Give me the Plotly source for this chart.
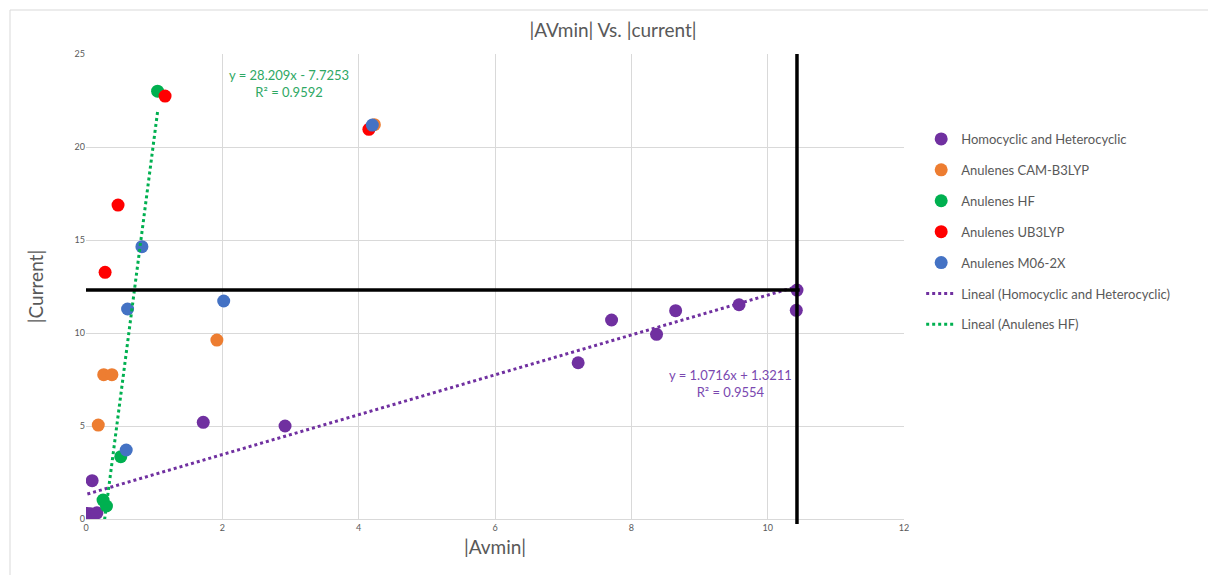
import plotly.graph_objects as go
import numpy as np

# ---- data ----
homo_x = [0.02, 0.07, 0.16, 0.09, 1.72, 2.92, 7.22, 7.71, 8.37, 8.65, 9.58, 10.43, 10.42]
homo_y = [0.30, 0.28, 0.33, 2.06, 5.20, 5.00, 8.40, 10.70, 9.93, 11.20, 11.52, 12.31, 11.22]

cam_x = [0.18, 0.26, 0.38, 1.92, 4.23]
cam_y = [5.05, 7.76, 7.76, 9.62, 21.20]

hf_x = [1.05, 0.51, 0.25, 0.30]
hf_y = [23.00, 3.35, 1.02, 0.70]

ub_x = [1.16, 0.47, 0.28, 4.15]
ub_y = [22.74, 16.88, 13.26, 20.95]

m06_x = [0.82, 0.61, 2.02, 0.59, 4.20]
m06_y = [14.64, 11.29, 11.72, 3.71, 21.18]

# trendline coefficients (as printed on the chart)
homo_slope, homo_icpt, homo_r2 = 1.0716, 1.3211, 0.9554
hf_slope, hf_icpt, hf_r2 = 28.209, -7.7253, 0.9592

x_ticks = [0, 2, 4, 6, 8, 10, 12]
y_ticks = [0, 5, 10, 15, 20, 25]

# ---- styles ----
C_PURPLE = "#7030A0"
C_ORANGE = "#ED7D31"
C_GREEN = "#00B050"
C_RED = "#FF0000"
C_BLUE = "#4472C4"
FONT = "Lato"
TXT = "#595959"
MS = 13

fig = go.Figure()

def pts(x, y, name, color, grp):
    fig.add_trace(go.Scatter(x=x, y=y, mode="markers", name=name,
                             legendgroup=grp,
                             marker=dict(color=color, size=MS)))

pts(homo_x, homo_y, "Homocyclic and Heterocyclic", C_PURPLE, "a")
pts(cam_x, cam_y, "Anulenes CAM-B3LYP", C_ORANGE, "b")
pts(hf_x, hf_y, "Anulenes HF", C_GREEN, "c")
pts(ub_x, ub_y, "Anulenes UB3LYP", C_RED, "d")
pts(m06_x, m06_y, "Anulenes M06-2X", C_BLUE, "e")

# trendlines
tx = np.linspace(min(homo_x), max(homo_x), 60)
fig.add_trace(go.Scatter(x=tx, y=homo_slope * tx + homo_icpt, mode="lines",
                         name="Lineal (Homocyclic and Heterocyclic)", legendgroup="f",
                         line=dict(color=C_PURPLE, width=3, dash="dot")))
tx2 = np.linspace(min(hf_x), max(hf_x), 60)
fig.add_trace(go.Scatter(x=tx2, y=hf_slope * tx2 + hf_icpt, mode="lines",
                         name="Lineal (Anulenes HF)", legendgroup="g",
                         line=dict(color=C_GREEN, width=3, dash="dot")))

# black reference lines through the max point of the homocyclic series
imax = int(np.argmax(homo_x))
vx, hy = homo_x[imax], homo_y[imax]
fig.add_shape(type="line", xref="x", yref="y", x0=0, x1=vx + 0.04, y0=hy, y1=hy,
              line=dict(color="black", width=3.5), layer="above")
fig.add_shape(type="line", xref="x", yref="paper", x0=vx, x1=vx, y0=-0.011, y1=1.0,
              line=dict(color="black", width=3.5), layer="above")

# outer chart border
fig.add_shape(type="rect", xref="paper", yref="paper",
              x0=(10 - 86) / 818, x1=1.45, y0=-0.2, y1=(519 - 10) / 465,
              line=dict(color="#D9D9D9", width=1), layer="below")

# trendline equations
fig.add_annotation(x=2.98, y=23.4, xref="x", yref="y", showarrow=False,
                   text=f"y = {hf_slope}x - {abs(hf_icpt)}<br>R² = {hf_r2}",
                   font=dict(family=FONT, size=13, color="#2EA864"), align="center")
fig.add_annotation(x=9.46, y=7.3, xref="x", yref="y", showarrow=False,
                   text=f"y = {homo_slope}x + {homo_icpt}<br>R² = {homo_r2}",
                   font=dict(family=FONT, size=13, color="#7A48B0"), align="center")

fig.update_layout(
    width=1208, height=575,
    margin=dict(l=86, r=304, t=54, b=56),
    paper_bgcolor="white", plot_bgcolor="white",
    title=dict(text="|AVmin| Vs. |current|", x=(613 - 0) / 1208, xanchor="center",
               y=1 - 30 / 575, yanchor="middle",
               font=dict(family=FONT, size=19, color=TXT)),
    font=dict(family=FONT, color=TXT),
    showlegend=True,
    legend=dict(x=1.021, xanchor="left", y=(519 - 124) / 465, yanchor="top",
                font=dict(family=FONT, size=13, color=TXT),
                tracegroupgap=11, traceorder="grouped",
                bgcolor="rgba(0,0,0,0)", itemwidth=30),
)
fig.update_xaxes(range=[0, 12], tickvals=x_ticks, showgrid=True, gridcolor="#D9D9D9",
                 gridwidth=1, zeroline=False, showline=True, linecolor="#D9D9D9",
                 tickfont=dict(family=FONT, size=9, color=TXT), ticks="",
                 title=dict(text="|Avmin|", font=dict(family=FONT, size=19, color=TXT),
                            standoff=8))
fig.update_yaxes(range=[0, 25], tickvals=y_ticks, showgrid=True, gridcolor="#D9D9D9",
                 gridwidth=1, zeroline=False, showline=False,
                 tickfont=dict(family=FONT, size=9, color=TXT), ticks="",
                 title=dict(text="|Current|", font=dict(family=FONT, size=19, color=TXT),
                            standoff=25))

fig.write_html("out.html")
